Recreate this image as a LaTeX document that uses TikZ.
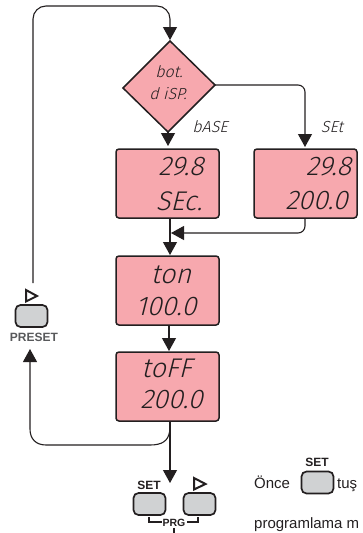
\documentclass[tikz,border=0pt]{standalone}
\usepackage{fontspec}
\setmainfont{Liberation Sans}
\newfontfamily\lcdfont[FakeSlant=0.25]{Fira Sans Light}
\usetikzlibrary{arrows.meta}
\definecolor{ink}{HTML}{231F20}
\definecolor{lcdpink}{HTML}{F7A8AE}
\definecolor{keygray}{HTML}{D0D2D3}
\definecolor{labgray}{HTML}{58595B}
\tikzset{
  flow/.style={draw=ink,line width=1.1pt,-{Triangle[length=13pt,width=14pt]}},
  plainline/.style={draw=ink,line width=1.1pt},
  lcdbox/.style={draw=ink,fill=lcdpink,line width=1.5pt,rounded corners=3pt,minimum width=103pt,minimum height=69pt,inner sep=0pt},
  keybtn/.style={draw=ink,fill=keygray,line width=1.7pt,rounded corners=5pt,minimum width=32pt,minimum height=22pt,inner sep=0pt},
  lcdbig/.style={text=ink,inner sep=0pt,font=\lcdfont\fontsize{27}{27}\selectfont},
  lcdsmall/.style={text=ink,inner sep=0pt,font=\lcdfont\fontsize{16}{16}\selectfont},
  keylab/.style={text=ink,inner sep=0pt,font=\bfseries\fontsize{12}{12}\selectfont},
  bodytext/.style={text=ink,inner sep=0pt,anchor=base west,font=\fontsize{15}{15}\selectfont},
  playtri/.style={draw=ink,fill=white,line width=2pt,line join=miter},
}
\begin{document}
\begin{tikzpicture}[x=1pt,y=-1pt]
\useasboundingbox (0,0) rectangle (362,533);
% decision
\coordinate (dt) at (170,41);
\coordinate (dr) at (215,85);
\coordinate (db) at (168,132);
\coordinate (dl) at (123,88);
\draw[draw=ink,fill=lcdpink,line width=1.5pt,line join=miter] (dt)--(dr)--(db)--(dl)--cycle;
\node[lcdsmall] (dtop) at (169,72) {bot.};
\node[lcdsmall] (dbot) at (168,94) {d iSP.};
\node[lcdsmall] (lbase) at (210,127) {bASE};
\node[lcdsmall] (lset) at (332,127) {SEt};
% boxes
\node[lcdbox] (base) at (167.5,183.5) {};
\node[lcdbox] (setb) at (305.5,183.5) {};
\node[lcdbox] (ton) at (167.5,290.5) {};
\node[lcdbox] (toff) at (167.5,386.5) {};
\node[lcdbig] (b1) at (181,167) {29.8};
\node[lcdbig] (b2) at (179,201) {SEc.};
\node[lcdbig] (s1) at (328.5,167) {29.8};
\node[lcdbig] (s2) at (316.5,201) {200.0};
\node[lcdbig] (t1) at (171,275) {ton};
\node[lcdbig] (t2) at (166,307) {100.0};
\node[lcdbig] (f1) at (166.5,368) {toFF};
\node[lcdbig] (f2) at (171.5,400) {200.0};
% keys
\node[keybtn] (kpreset) at (31.5,316) {};
\node[text=labgray,inner sep=0pt,font=\bfseries\fontsize{12}{12}\selectfont] (lpreset) at (34,337) {PRESET};
\node[keybtn] (kset) at (149.5,504) {};
\node[keybtn] (karrow) at (199.5,504) {};
\node[keylab] (lsetk) at (149,485) {SET};
\node[keylab,font=\bfseries\fontsize{10.5}{10.5}\selectfont] (lprg) at (174,523) {PRG};
\node[keybtn] (kright) at (317.5,482.5) {};
\node[keylab] (lsetr) at (317,462) {SET};
\node[bodytext] (once) at (254,488) {Önce};
\node[bodytext] (tus) at (337,488) {tuş};
\node[bodytext] (prog) at (254,528) {programlama m};
% triangles
\coordinate (pa) at (26,290); \coordinate (pb) at (37,296); \coordinate (pc) at (26,301.5);
\draw[playtri] (pa)--(pb)--(pc)--cycle;
\coordinate (qa) at (194,478); \coordinate (qb) at (205.5,484); \coordinate (qc) at (194,489.5);
\draw[playtri] (qa)--(qb)--(qc)--cycle;
% connectors
\coordinate (loopstart) at (33,283);
\coordinate (looptl) at (33,6);
\coordinate (looptr) at (170,6);
\draw[flow,rounded corners=13pt] (loopstart)--(looptl)--(looptr)--(170,40);
\draw[flow] (db)--(168,146);
\draw[flow,rounded corners=7pt] (dr)--(305,85)--(305,147);
\draw[flow] (170,218)--(170,255);
\draw[flow,rounded corners=7pt] (305,218)--(305,233)--(171,233);
\draw[flow] (169,325)--(169,351);
\draw[flow] (170,421)--(170,483);
\coordinate (jn) at (169.5,432);
\draw[flow] (jn) .. controls (168,441) and (162,445) .. (150,445) -- (46,445) .. controls (36,445) and (30,439) .. (30,429) -- (30,349);
% PRG bracket
\draw[plainline] (149,517)--(149,522)--(162,522);
\draw[plainline] (187,522)--(198,522)--(198,517);
\coordinate (prgtick) at (174,533);
\draw[plainline] (lprg.south)++(0,1)--(prgtick);
\end{tikzpicture}
\end{document}
